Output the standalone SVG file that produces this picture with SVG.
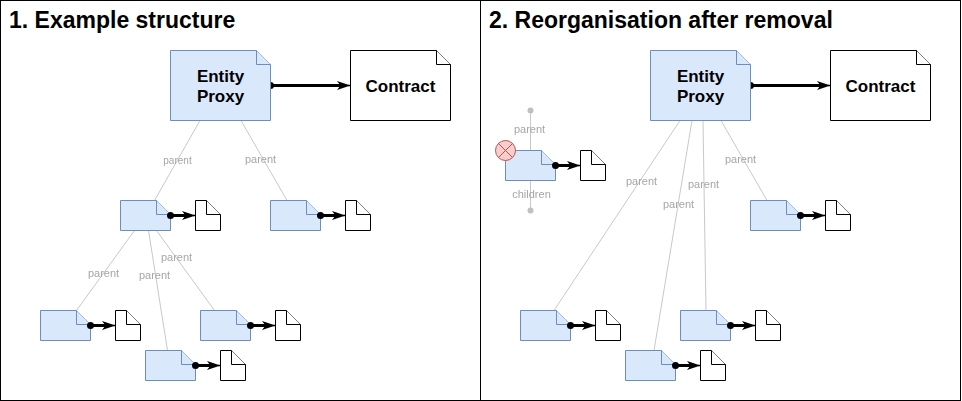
<svg xmlns="http://www.w3.org/2000/svg" width="962" height="401" viewBox="0 0 962 401">
<style>
text{font-family:"Liberation Sans",Arial,sans-serif}
.title{font-size:23px;font-weight:700;fill:#000}
.big{font-size:17px;font-weight:700;fill:#000;text-anchor:middle}
.lbl{font-size:11px;fill:#a6a6a6;text-anchor:middle}
.p{fill:#dae8fc;stroke:#6c8ebf;stroke-width:1}
.c{fill:#fff;stroke:#000;stroke-width:1}
.g{fill:none;stroke:#c8c8c8;stroke-width:1}
.a{fill:none;stroke:#000;stroke-width:1.3}
.panel{fill:#fff;stroke:#000;stroke-width:1}
</style>
<defs>
<filter id="gray" x="0" y="0" width="1" height="1"><feOffset dx="0" dy="0"/></filter>
<marker id="arr" viewBox="0 0 14 10" refX="13.500" refY="5" markerWidth="14" markerHeight="10" markerUnits="userSpaceOnUse" orient="auto"><path d="M0 0.500L13.500 5L0 9.500L3.500 5Z" fill="#000"/></marker>
<g id="sp"><path class="p" d="M0 0H36L50 14V30H0Z"/><path class="p" d="M36 0V14H50"/></g>
<g id="sc"><path class="c" d="M0 0H11L25 14V30H0Z"/><path class="c" d="M11 0V14H25"/></g>
</defs>
<rect class="panel" x="0.500" y="0.500" width="480" height="400"/>
<rect class="panel" x="480.500" y="0.500" width="480" height="400"/>
<text class="title" x="9" y="28">1. Example structure</text>
<text class="title" x="489" y="28">2. Reorganisation after removal</text>
<g id="connectors">
<path class="g" d="M200 120.500L154.500 200.500"/>
<path class="g" d="M241 120.500L287 200.500"/>
<path class="g" d="M134.500 230.500L76.500 310.500"/>
<path class="g" d="M148.500 230.500L167.500 350.500"/>
<path class="g" d="M156.500 230.500L214.500 310.500"/>
<path class="g" d="M680 120.500L554 310.500"/>
<path class="g" d="M692 120.500L654 350.500"/>
<path class="g" d="M703 120.500L706 310.500"/>
<path class="g" d="M721 120.500L767 200.500"/>
<path class="g" d="M530.500 110.500V150.500"/>
<path class="g" d="M530.500 180.500V210.500"/>
<circle cx="530.500" cy="110.500" r="3" fill="#c0c0c0"/>
<circle cx="530.500" cy="210.500" r="3" fill="#c0c0c0"/>
<circle cx="270.500" cy="85.500" r="3.500"/>
<circle cx="750.500" cy="85.500" r="3.500"/>
<path class="a" d="M270.500 84.750H341M270.500 86.250H341M348 85.500H350.500" marker-end="url(#arr)"/>
<path class="a" d="M750.500 84.750H821M750.500 86.250H821M828 85.500H830.500" marker-end="url(#arr)"/>
<path class="a" d="M170.500 214.750H186M170.500 216.250H186M193 215.500H195.500" marker-end="url(#arr)"/>
<path class="a" d="M320.500 214.750H336M320.500 216.250H336M343 215.500H345.500" marker-end="url(#arr)"/>
<path class="a" d="M90.500 324.750H106M90.500 326.250H106M113 325.500H115.500" marker-end="url(#arr)"/>
<path class="a" d="M250.500 324.750H266M250.500 326.250H266M273 325.500H275.500" marker-end="url(#arr)"/>
<path class="a" d="M195.500 364.750H211M195.500 366.250H211M218 365.500H220.500" marker-end="url(#arr)"/>
<path class="a" d="M800.500 214.750H816M800.500 216.250H816M823 215.500H825.500" marker-end="url(#arr)"/>
<path class="a" d="M570.500 324.750H586M570.500 326.250H586M593 325.500H595.500" marker-end="url(#arr)"/>
<path class="a" d="M730.500 324.750H746M730.500 326.250H746M753 325.500H755.500" marker-end="url(#arr)"/>
<path class="a" d="M675.500 364.750H691M675.500 366.250H691M698 365.500H700.500" marker-end="url(#arr)"/>
<path class="a" d="M555.500 164.750H571M555.500 166.250H571M578 165.500H580.500" marker-end="url(#arr)"/>
</g>
<g id="edge-labels" filter="url(#gray)">
<text class="lbl" x="177.500" y="164" style="font-size:10px">parent</text>
<text class="lbl" x="260.500" y="163">parent</text>
<text class="lbl" x="103.500" y="277">parent</text>
<text class="lbl" x="154.500" y="279">parent</text>
<text class="lbl" x="176.500" y="261">parent</text>
<text class="lbl" x="641.500" y="185">parent</text>
<text class="lbl" x="678.500" y="208">parent</text>
<text class="lbl" x="703.500" y="188">parent</text>
<text class="lbl" x="740.500" y="163">parent</text>
<text class="lbl" x="529.500" y="133">parent</text>
<text class="lbl" x="531.500" y="198">children</text>
</g>
<g id="n1"><path class="p" d="M170.500 50.500H256.500L270.500 64.500V120.500H170.500Z"/><path class="p" d="M256.500 50.500V64.500H270.500"/><text class="big" x="220.500" y="82">Entity</text><text class="big" x="220.500" y="102">Proxy</text></g>
<g id="n2"><path class="c" d="M350.500 50.500H436.500L450.500 64.500V120.500H350.500Z"/><path class="c" d="M436.500 50.500V64.500H450.500"/><text class="big" x="400.500" y="92">Contract</text></g>
<g id="n3"><path class="p" d="M650.500 50.500H736.500L750.500 64.500V120.500H650.500Z"/><path class="p" d="M736.500 50.500V64.500H750.500"/><text class="big" x="700.500" y="82">Entity</text><text class="big" x="700.500" y="102">Proxy</text></g>
<g id="n4"><path class="c" d="M830.500 50.500H916.500L930.500 64.500V120.500H830.500Z"/><path class="c" d="M916.500 50.500V64.500H930.500"/><text class="big" x="880.500" y="92">Contract</text></g>
<g id="s1"><use href="#sp" x="120.500" y="200.500"/><circle cx="170.500" cy="215.500" r="3.500"/><use href="#sc" x="195.500" y="200.500"/></g>
<g id="s2"><use href="#sp" x="270.500" y="200.500"/><circle cx="320.500" cy="215.500" r="3.500"/><use href="#sc" x="345.500" y="200.500"/></g>
<g id="s3"><use href="#sp" x="40.500" y="310.500"/><circle cx="90.500" cy="325.500" r="3.500"/><use href="#sc" x="115.500" y="310.500"/></g>
<g id="s4"><use href="#sp" x="200.500" y="310.500"/><circle cx="250.500" cy="325.500" r="3.500"/><use href="#sc" x="275.500" y="310.500"/></g>
<g id="s5"><use href="#sp" x="145.500" y="350.500"/><circle cx="195.500" cy="365.500" r="3.500"/><use href="#sc" x="220.500" y="350.500"/></g>
<g id="s6"><use href="#sp" x="750.500" y="200.500"/><circle cx="800.500" cy="215.500" r="3.500"/><use href="#sc" x="825.500" y="200.500"/></g>
<g id="s7"><use href="#sp" x="520.500" y="310.500"/><circle cx="570.500" cy="325.500" r="3.500"/><use href="#sc" x="595.500" y="310.500"/></g>
<g id="s8"><use href="#sp" x="680.500" y="310.500"/><circle cx="730.500" cy="325.500" r="3.500"/><use href="#sc" x="755.500" y="310.500"/></g>
<g id="s9"><use href="#sp" x="625.500" y="350.500"/><circle cx="675.500" cy="365.500" r="3.500"/><use href="#sc" x="700.500" y="350.500"/></g>
<g id="s10"><use href="#sp" x="505.500" y="150.500"/><circle cx="555.500" cy="165.500" r="3.500"/><use href="#sc" x="580.500" y="150.500"/></g>
<g id="x"><circle cx="505.500" cy="150.500" r="10" fill="#f8cecc" stroke="#b85450"/><path d="M498.430 143.430L512.570 157.570M498.430 157.570L512.570 143.430" stroke="#b85450" fill="none"/></g>
</svg>
